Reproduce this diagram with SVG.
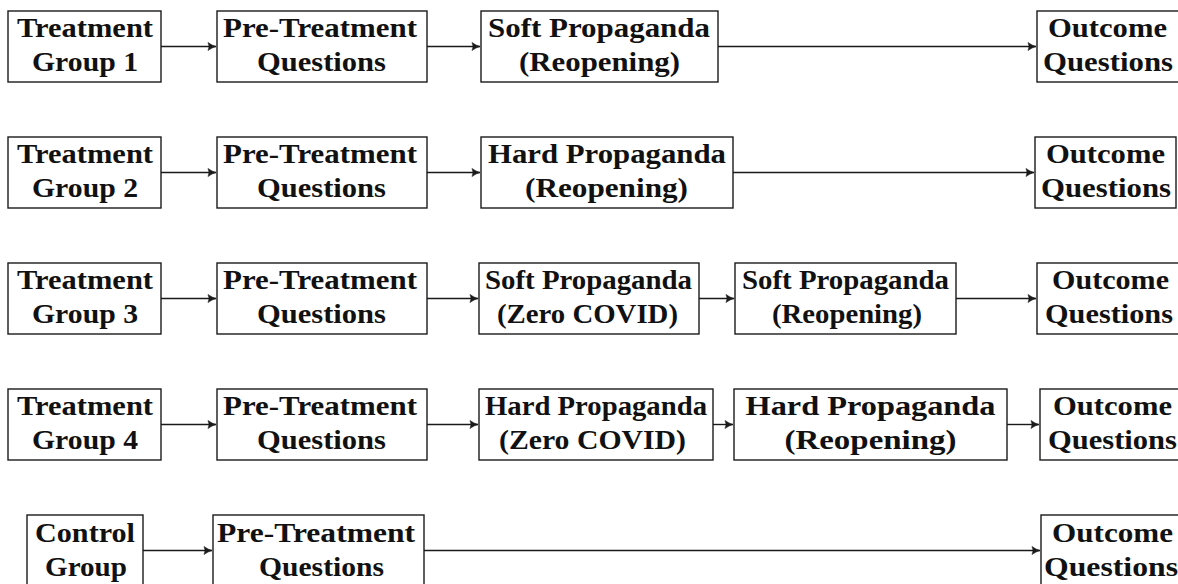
<svg xmlns="http://www.w3.org/2000/svg" width="1178" height="584" viewBox="0 0 1178 584">
<style>
.b{fill:#fff;stroke:#1a1a1a;stroke-width:1.4}
.t{font-family:"Liberation Serif","Times New Roman",serif;font-weight:bold;font-size:27px;fill:#111;text-anchor:middle}
.c{stroke:#1a1a1a;stroke-width:1.4;fill:none;marker-end:url(#ah)}
</style>
<defs>
<marker id="ah" markerUnits="userSpaceOnUse" markerWidth="12" markerHeight="12" viewBox="-10 -6 12 12" refX="0" refY="0" orient="auto">
<path d="M-8,-4 Q-4,-1 0,0 Q-4,1 -8,4 Q-6,0 -8,-4 Z" fill="#1a1a1a" stroke="#1a1a1a" stroke-width="0.6" stroke-linejoin="round"/>
</marker>
</defs>
<g id="connectors">
<line class="c" x1="161" y1="46.5" x2="216" y2="46.5"/>
<line class="c" x1="427" y1="46.5" x2="480" y2="46.5"/>
<line class="c" x1="718" y1="46.5" x2="1036" y2="46.5"/>
<line class="c" x1="161" y1="172.5" x2="216" y2="172.5"/>
<line class="c" x1="427" y1="172.5" x2="480" y2="172.5"/>
<line class="c" x1="733" y1="172.5" x2="1034" y2="172.5"/>
<line class="c" x1="161" y1="298.5" x2="216" y2="298.5"/>
<line class="c" x1="427" y1="298.5" x2="478" y2="298.5"/>
<line class="c" x1="699" y1="298.5" x2="734" y2="298.5"/>
<line class="c" x1="956" y1="298.5" x2="1036" y2="298.5"/>
<line class="c" x1="161" y1="424.5" x2="216" y2="424.5"/>
<line class="c" x1="427" y1="424.5" x2="478" y2="424.5"/>
<line class="c" x1="713" y1="424.5" x2="733" y2="424.5"/>
<line class="c" x1="1007" y1="424.5" x2="1039" y2="424.5"/>
<line class="c" x1="143" y1="550.5" x2="212" y2="550.5"/>
<line class="c" x1="424" y1="550.5" x2="1040" y2="550.5"/>
</g>
<g id="tg1"><rect class="b" x="8" y="11" width="153" height="71"/><text class="t" x="85" y="36.5" textLength="136" lengthAdjust="spacingAndGlyphs">Treatment</text><text class="t" x="85" y="70.5" textLength="106" lengthAdjust="spacingAndGlyphs">Group 1</text></g>
<g id="pt1"><rect class="b" x="217" y="11" width="210" height="71"/><text class="t" x="320" y="36.5" textLength="194" lengthAdjust="spacingAndGlyphs">Pre-Treatment</text><text class="t" x="321.5" y="70.5" textLength="129" lengthAdjust="spacingAndGlyphs">Questions</text></g>
<g id="sp1"><rect class="b" x="481" y="11" width="237" height="71"/><text class="t" x="599" y="36.5" textLength="222" lengthAdjust="spacingAndGlyphs">Soft Propaganda</text><text class="t" x="599.5" y="70.5" textLength="161" lengthAdjust="spacingAndGlyphs">(Reopening)</text></g>
<g id="oq1"><rect class="b" x="1037" y="11" width="143" height="71"/><text class="t" x="1107.5" y="36.5" textLength="119" lengthAdjust="spacingAndGlyphs">Outcome</text><text class="t" x="1108" y="70.5" textLength="130" lengthAdjust="spacingAndGlyphs">Questions</text></g>

<g id="tg2"><rect class="b" x="8" y="137" width="153" height="71"/><text class="t" x="85" y="162.5" textLength="136" lengthAdjust="spacingAndGlyphs">Treatment</text><text class="t" x="85" y="196.5" textLength="106" lengthAdjust="spacingAndGlyphs">Group 2</text></g>
<g id="pt2"><rect class="b" x="217" y="137" width="210" height="71"/><text class="t" x="320" y="162.5" textLength="194" lengthAdjust="spacingAndGlyphs">Pre-Treatment</text><text class="t" x="321.5" y="196.5" textLength="129" lengthAdjust="spacingAndGlyphs">Questions</text></g>
<g id="hp2"><rect class="b" x="481" y="137" width="252" height="71"/><text class="t" x="607" y="162.5" textLength="238" lengthAdjust="spacingAndGlyphs">Hard Propaganda</text><text class="t" x="606.5" y="196.5" textLength="163" lengthAdjust="spacingAndGlyphs">(Reopening)</text></g>
<g id="oq2"><rect class="b" x="1035" y="137" width="141" height="71"/><text class="t" x="1105.5" y="162.5" textLength="119" lengthAdjust="spacingAndGlyphs">Outcome</text><text class="t" x="1106" y="196.5" textLength="130" lengthAdjust="spacingAndGlyphs">Questions</text></g>

<g id="tg3"><rect class="b" x="8" y="263" width="153" height="71"/><text class="t" x="85" y="288.5" textLength="136" lengthAdjust="spacingAndGlyphs">Treatment</text><text class="t" x="85" y="322.5" textLength="106" lengthAdjust="spacingAndGlyphs">Group 3</text></g>
<g id="pt3"><rect class="b" x="217" y="263" width="210" height="71"/><text class="t" x="320" y="288.5" textLength="194" lengthAdjust="spacingAndGlyphs">Pre-Treatment</text><text class="t" x="321.5" y="322.5" textLength="129" lengthAdjust="spacingAndGlyphs">Questions</text></g>
<g id="spz3"><rect class="b" x="479" y="263" width="220" height="71"/><text class="t" x="588.5" y="288.5" textLength="207" lengthAdjust="spacingAndGlyphs">Soft Propaganda</text><text class="t" x="587.5" y="322.5" textLength="181" lengthAdjust="spacingAndGlyphs">(Zero COVID)</text></g>
<g id="spr3"><rect class="b" x="735" y="263" width="221" height="71"/><text class="t" x="845.5" y="288.5" textLength="207" lengthAdjust="spacingAndGlyphs">Soft Propaganda</text><text class="t" x="847" y="322.5" textLength="150" lengthAdjust="spacingAndGlyphs">(Reopening)</text></g>
<g id="oq3"><rect class="b" x="1037" y="263" width="143" height="71"/><text class="t" x="1110.5" y="288.5" textLength="117" lengthAdjust="spacingAndGlyphs">Outcome</text><text class="t" x="1109" y="322.5" textLength="128" lengthAdjust="spacingAndGlyphs">Questions</text></g>

<g id="tg4"><rect class="b" x="8" y="389" width="153" height="71"/><text class="t" x="85" y="414.5" textLength="136" lengthAdjust="spacingAndGlyphs">Treatment</text><text class="t" x="85" y="448.5" textLength="106" lengthAdjust="spacingAndGlyphs">Group 4</text></g>
<g id="pt4"><rect class="b" x="217" y="389" width="210" height="71"/><text class="t" x="320" y="414.5" textLength="194" lengthAdjust="spacingAndGlyphs">Pre-Treatment</text><text class="t" x="321.5" y="448.5" textLength="129" lengthAdjust="spacingAndGlyphs">Questions</text></g>
<g id="hpz4"><rect class="b" x="479" y="389" width="234" height="71"/><text class="t" x="596" y="414.5" textLength="222" lengthAdjust="spacingAndGlyphs">Hard Propaganda</text><text class="t" x="592.5" y="448.5" textLength="187" lengthAdjust="spacingAndGlyphs">(Zero COVID)</text></g>
<g id="hpr4"><rect class="b" x="734" y="389" width="273" height="71"/><text class="t" x="870.5" y="414.5" textLength="250" lengthAdjust="spacingAndGlyphs">Hard Propaganda</text><text class="t" x="870.5" y="448.5" textLength="172" lengthAdjust="spacingAndGlyphs">(Reopening)</text></g>
<g id="oq4"><rect class="b" x="1040" y="389" width="143" height="71"/><text class="t" x="1112.5" y="414.5" textLength="119" lengthAdjust="spacingAndGlyphs">Outcome</text><text class="t" x="1112.5" y="448.5" textLength="129" lengthAdjust="spacingAndGlyphs">Questions</text></g>

<g id="cg"><rect class="b" x="27" y="515" width="116" height="74"/><text class="t" x="85" y="541.5" textLength="100" lengthAdjust="spacingAndGlyphs">Control</text><text class="t" x="86" y="575.5" textLength="82" lengthAdjust="spacingAndGlyphs">Group</text></g>
<g id="pt5"><rect class="b" x="213" y="515" width="211" height="74"/><text class="t" x="316" y="541.5" textLength="198" lengthAdjust="spacingAndGlyphs">Pre-Treatment</text><text class="t" x="321.5" y="575.5" textLength="125" lengthAdjust="spacingAndGlyphs">Questions</text></g>
<g id="oq5"><rect class="b" x="1041" y="515" width="143" height="74"/><text class="t" x="1112.5" y="541.5" textLength="121" lengthAdjust="spacingAndGlyphs">Outcome</text><text class="t" x="1111" y="575.5" textLength="134" lengthAdjust="spacingAndGlyphs">Questions</text></g>
</svg>
